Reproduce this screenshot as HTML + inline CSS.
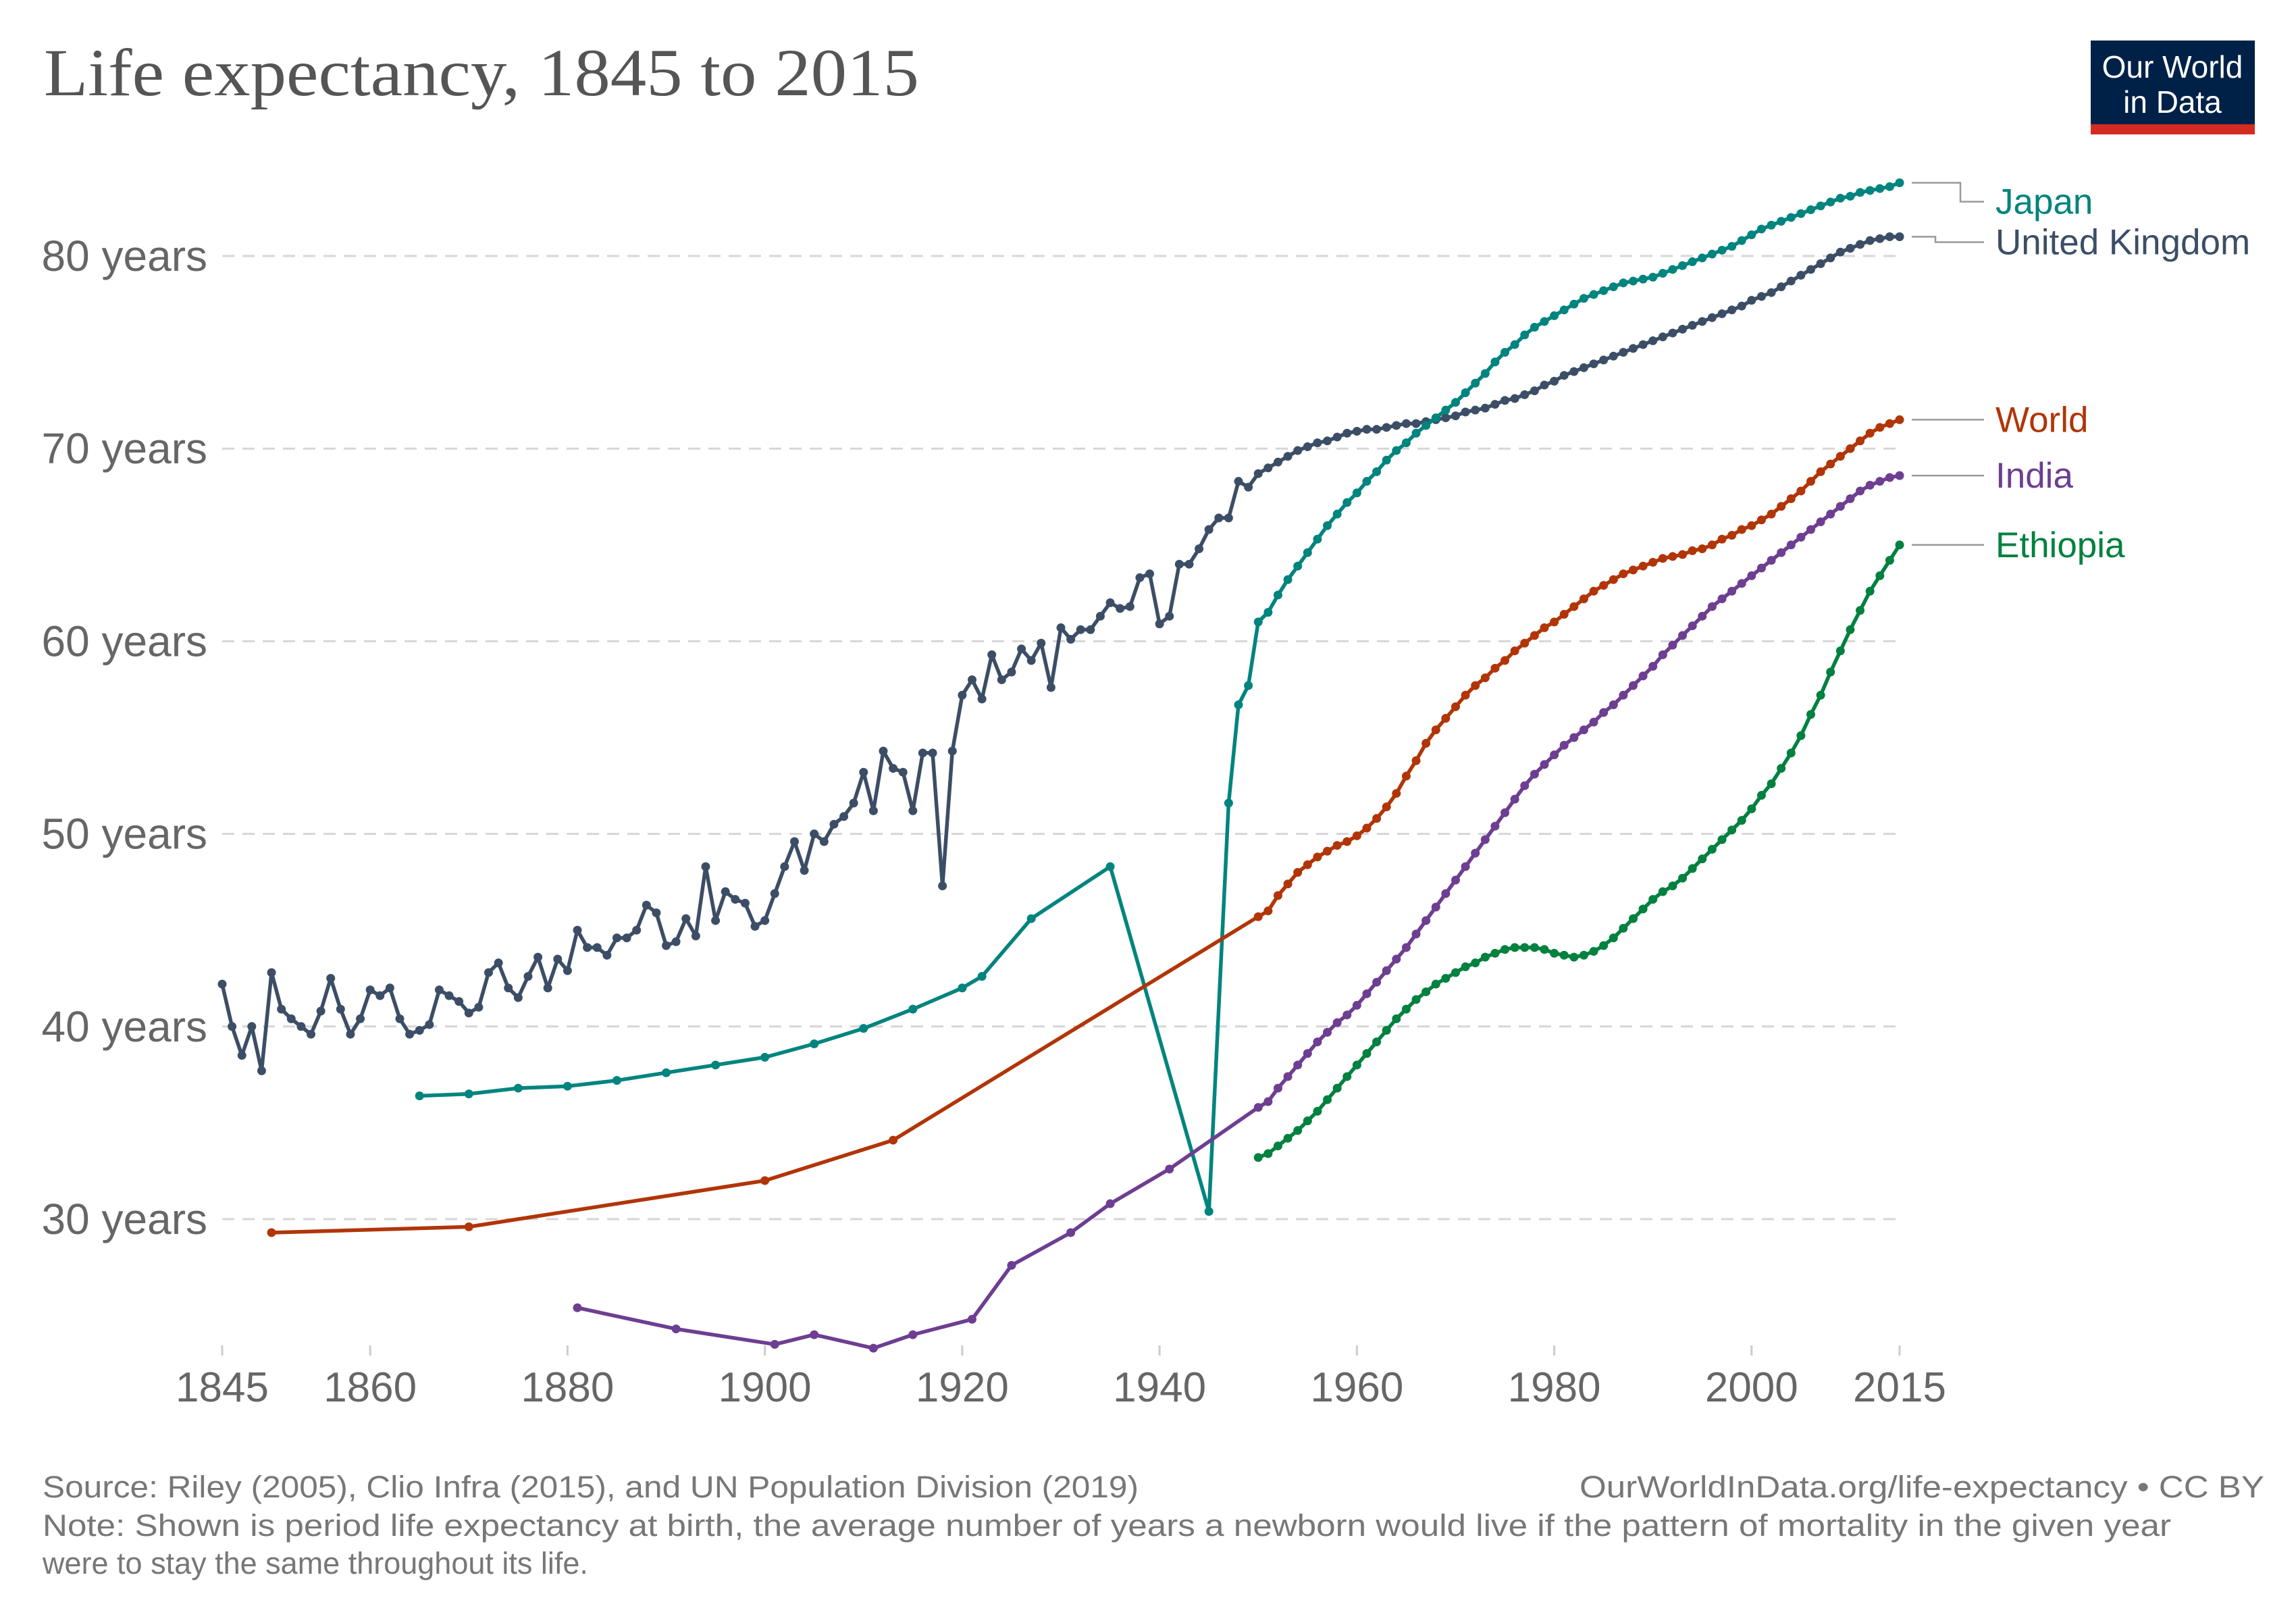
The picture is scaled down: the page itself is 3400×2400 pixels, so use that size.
<!DOCTYPE html>
<html><head><meta charset="utf-8"><style>
html,body{margin:0;padding:0;background:#fff}
svg{display:block}
</style></head><body>
<svg id="chart" width="3400" height="2400" viewBox="0 0 3400 2400" xmlns="http://www.w3.org/2000/svg" font-family="'Liberation Sans', sans-serif">
<text x="65" y="141" font-family="'Liberation Serif', serif" font-size="100" fill="#555" textLength="1296" lengthAdjust="spacingAndGlyphs">Life expectancy, 1845 to 2015</text>
<g>
<rect x="3096" y="60" width="243" height="124" fill="#002147"/>
<rect x="3096" y="184" width="243" height="15" fill="#d42b21"/>
<text x="3217" y="115" font-size="46" fill="#fff" text-anchor="middle">Our World</text>
<text x="3217" y="167" font-size="46" fill="#fff" text-anchor="middle">in Data</text>
</g>
<g id="grid"></g>
<g id="yaxis"></g>
<g id="xaxis"></g>
<g id="series"></g>
<g id="labels"></g>
<text x="63" y="2217" font-size="45" fill="#777" textLength="1623" lengthAdjust="spacingAndGlyphs">Source: Riley (2005), Clio Infra (2015), and UN Population Division (2019)</text>
<text x="2339" y="2217" font-size="45" fill="#777" textLength="1014" lengthAdjust="spacingAndGlyphs">OurWorldInData.org/life-expectancy • CC BY</text>
<text x="63" y="2274" font-size="45" fill="#777" textLength="3152" lengthAdjust="spacingAndGlyphs">Note: Shown is period life expectancy at birth, the average number of years a newborn would live if the pattern of mortality in the given year</text>
<text x="63" y="2330" font-size="45" fill="#777">were to stay the same throughout its life.</text>
</svg>
<script>
const yTicks=[30,40,50,60,70,80];
const xTicks=[1845,1860,1880,1900,1920,1940,1960,1980,2000,2015];
const ukYears=[];for(let y=1845;y<=2015;y++)ukYears.push(y);
const ukValues=[42.2,40.0,38.5,40.0,37.7,42.8,40.9,40.4,40.0,39.6,40.8,42.5,40.9,39.6,40.4,41.9,41.6,42.0,40.4,39.6,39.8,40.1,41.9,41.6,41.3,40.7,41.0,42.8,43.3,42.0,41.5,42.6,43.6,42.0,43.5,42.9,45.0,44.1,44.1,43.7,44.6,44.6,45.0,46.3,45.9,44.2,44.4,45.6,44.7,48.3,45.5,47.0,46.6,46.4,45.2,45.5,46.9,48.3,49.6,48.1,50.0,49.6,50.5,50.9,51.6,53.2,51.2,54.3,53.4,53.2,51.2,54.2,54.2,47.3,54.3,57.2,58.0,57.0,59.3,58.0,58.4,59.6,59.0,59.9,57.6,60.7,60.1,60.6,60.6,61.3,62.0,61.7,61.8,63.3,63.5,60.9,61.3,64.0,64.0,64.8,65.8,66.4,66.4,68.3,68.0,
68.7,69.0,69.3,69.6,69.9,70.1,70.3,70.4,70.6,70.8,70.9,71.0,71.0,71.1,71.2,71.3,71.3,71.4,71.5,71.6,71.7,71.9,72.0,72.1,72.3,72.5,72.6,72.8,73.0,73.3,73.5,73.8,74.0,74.2,74.4,74.6,74.8,75.0,75.2,75.4,75.6,75.8,76.0,76.2,76.4,76.6,76.8,77.0,77.2,77.4,77.7,77.9,78.1,78.4,78.7,79.0,79.3,79.6,79.9,80.2,80.4,80.6,80.8,80.9,81.0,81.0];
const modernYears=[];for(let y=1950;y<=2015;y++)modernYears.push(y);
const japanEarlyYears=[1865,1870,1875,1880,1885,1890,1895,1900,1905,1910,1915,1920,1922,1927,1935,1945,1947,1948,1949];
const japanEarlyValues=[36.4,36.5,36.8,36.9,37.2,37.6,38.0,38.4,39.1,39.9,40.9,42.0,42.6,45.6,48.3,30.4,51.6,56.7,57.7];
const japanModern=[61.0,61.5,62.4,63.2,63.9,64.6,65.3,66.0,66.6,67.2,67.7,68.3,68.8,69.4,69.9,70.3,70.8,71.2,71.6,72.0,72.4,72.9,73.4,73.9,74.5,75.0,75.4,75.9,76.3,76.6,76.9,77.2,77.5,77.8,78.0,78.2,78.4,78.6,78.7,78.8,78.9,79.1,79.3,79.5,79.7,79.9,80.1,80.3,80.5,80.8,81.1,81.4,81.6,81.8,82.0,82.2,82.4,82.6,82.8,83.0,83.1,83.3,83.4,83.5,83.6,83.8];
const worldEarlyYears=[1850,1870,1900,1913];
const worldEarlyValues=[29.3,29.6,32.0,34.1];
const worldModern=[45.7,46.0,46.8,47.4,48.0,48.4,48.8,49.1,49.4,49.6,49.9,50.3,50.8,51.4,52.1,53.0,53.8,54.7,55.4,56.0,56.6,57.2,57.7,58.1,58.6,59.0,59.5,59.9,60.3,60.7,61.0,61.4,61.8,62.2,62.6,62.9,63.2,63.5,63.7,63.9,64.1,64.3,64.4,64.5,64.7,64.8,65.0,65.3,65.5,65.8,66.0,66.3,66.6,67.0,67.4,67.8,68.3,68.8,69.2,69.6,70.0,70.4,70.8,71.1,71.3,71.5];
const indiaEarlyYears=[1881,1891,1901,1905,1911,1915,1921,1925,1931,1935,1941];
const indiaEarlyValues=[25.4,24.3,23.5,24.0,23.3,24.0,24.8,27.6,29.3,30.8,32.6];
const indiaModern=[35.8,36.1,36.8,37.4,38.0,38.6,39.2,39.7,40.2,40.6,41.1,41.7,42.3,42.9,43.5,44.1,44.8,45.5,46.2,46.9,47.6,48.3,49.0,49.7,50.4,51.1,51.8,52.5,53.1,53.6,54.1,54.6,55.0,55.4,55.8,56.3,56.7,57.2,57.7,58.2,58.7,59.3,59.8,60.3,60.8,61.3,61.8,62.2,62.6,63.0,63.4,63.8,64.2,64.6,65.0,65.4,65.8,66.2,66.6,67.0,67.4,67.8,68.1,68.3,68.5,68.6];
const ethiopiaModern=[33.2,33.4,33.8,34.2,34.6,35.1,35.6,36.2,36.8,37.4,38.0,38.6,39.2,39.8,40.4,40.9,41.4,41.8,42.2,42.5,42.8,43.1,43.3,43.6,43.8,44.0,44.1,44.1,44.1,44.0,43.8,43.7,43.6,43.7,43.9,44.2,44.6,45.1,45.6,46.1,46.6,47.0,47.3,47.7,48.2,48.7,49.2,49.7,50.2,50.7,51.3,52.0,52.6,53.4,54.2,55.1,56.2,57.2,58.4,59.5,60.6,61.6,62.6,63.4,64.2,65.0];
const seriesNames=["Japan","United Kingdom","World","India","Ethiopia"];

const NS="http://www.w3.org/2000/svg";
function xs(yr){return 329+(yr-1845)*(2813-329)/170;}
function ys(v){return 379+(80-v)*(1805-379)/50;}
function mk(tag,attrs,parent){const e=document.createElementNS(NS,tag);for(const k in attrs)e.setAttribute(k,attrs[k]);parent.appendChild(e);return e;}

const grid=document.getElementById('grid'),yax=document.getElementById('yaxis'),xax=document.getElementById('xaxis');
yTicks.forEach(t=>{
  const l=mk('line',{x1:329,x2:2813,y1:ys(t),y2:ys(t),stroke:'#d6d6d6','stroke-width':3,'stroke-dasharray':'18,12'},grid);
  
  
  const tx=mk('text',{x:307,y:ys(t)+22,'font-size':64,fill:'#666','text-anchor':'end'},yax);
  tx.textContent=t+' years';
  
  
});
xTicks.forEach(t=>{
  const l=mk('line',{x1:xs(t),x2:xs(t),y1:1992,y2:2007,stroke:'#ccc','stroke-width':3},xax);
  
  
  const tx=mk('text',{x:xs(t),y:2075,'font-size':62,fill:'#666','text-anchor':'middle'},xax);
  tx.textContent=t;
  
  
});

const sg=document.getElementById('series');
function draw(name,color,years,vals){
  const g=mk('g',{},sg);
  
  
  const pts=years.map((y,i)=>xs(y).toFixed(1)+','+ys(vals[i]).toFixed(1)).join(' ');
  const pl=mk('polyline',{points:pts,fill:'none',stroke:color,'stroke-width':5.5,'stroke-linejoin':'round'},g);
  
  
  years.forEach((y,i)=>{
    const c=mk('circle',{cx:xs(y),cy:ys(vals[i]),r:6.5,fill:color},g);
    
    
  });
}
const colors=['#00847e','#3c4e66','#b13507','#6d3e91','#00813f'];
draw(seriesNames[1],colors[1],ukYears,ukValues);
draw(seriesNames[0],colors[0],japanEarlyYears.concat(modernYears),japanEarlyValues.concat(japanModern));
draw(seriesNames[2],colors[2],worldEarlyYears.concat(modernYears),worldEarlyValues.concat(worldModern));
draw(seriesNames[3],colors[3],indiaEarlyYears.concat(modernYears),indiaEarlyValues.concat(indiaModern));
draw(seriesNames[4],colors[4],modernYears,ethiopiaModern);

// labels
const lg=document.getElementById('labels');
const ends=[japanModern[65],ukValues[ukValues.length-1],worldModern[65],indiaModern[65],ethiopiaModern[65]];
const labelShift=[28,8,0,0,0];
const bendX=[2903,2866,2903,2903,2903];
ends.forEach((v,i)=>{
  const y0=ys(v),y1=y0+labelShift[i];
  const p=mk('polyline',{points:`2831,${y0} ${bendX[i]},${y0} ${bendX[i]},${y1} 2938,${y1}`,fill:'none',stroke:'#999','stroke-width':2.5},lg);
  
  
  const t=mk('text',{x:2955,y:y1+18,'font-size':53,fill:colors[i]},lg);
  t.textContent=seriesNames[i];
  
  
});
</script>
</body></html>
